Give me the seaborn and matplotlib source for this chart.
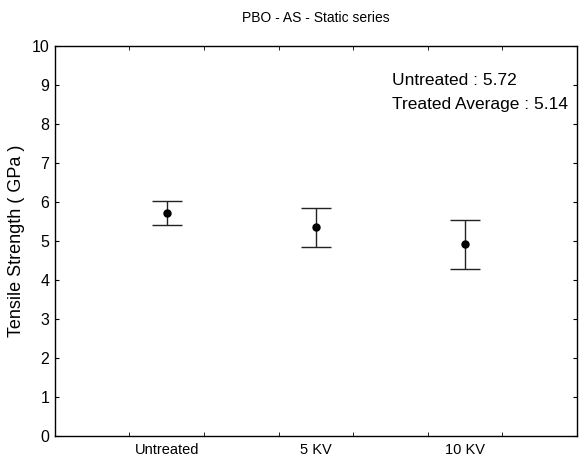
import numpy as np
import pandas as pd
import matplotlib
matplotlib.use("Agg")
import matplotlib.pyplot as plt
import seaborn as sns
from matplotlib.ticker import FixedLocator

# data
groups = ["Untreated", "5 KV", "10 KV"]
means = [5.72, 5.36, 4.92]
errors = [0.31, 0.50, 0.63]
untreated_label = 5.72
treated_avg = 5.14

sns.set_style("white")
plt.rcParams['font.family'] = ['Liberation Sans', 'DejaVu Sans']
plt.rcParams['text.color'] = 'black'
plt.rcParams['xtick.color'] = 'black'
plt.rcParams['ytick.color'] = 'black'
plt.rcParams['axes.labelcolor'] = 'black'

df = pd.DataFrame({"group": groups, "mean": means, "err": errors})

fig = plt.figure(figsize=(5.84, 4.61), dpi=100)
ax = fig.add_axes([0.094, 0.054, 0.894, 0.846])

sns.pointplot(data=df, x="group", y="mean", linestyle="none", color="black",
              marker="o", markersize=4, errorbar=None, ax=ax)
ax.errorbar(np.arange(len(groups)), df["mean"], yerr=df["err"], fmt="none",
            ecolor="#222222", elinewidth=1.0, capsize=11, capthick=1.0, zorder=1)

ax.set_xlim(-0.75, 2.75)
ax.set_ylim(0, 10)
ax.set_yticks(range(0, 11))
ax.xaxis.set_minor_locator(FixedLocator([-0.25, 0.25, 0.75, 1.25, 1.75, 2.25]))
ax.tick_params(axis="x", which="major", length=0, labelsize=10.5, pad=5)
ax.tick_params(axis="x", which="minor", direction="in", length=3, top=True, bottom=True)
ax.tick_params(axis="y", direction="in", length=3, left=True, right=True, labelsize=11.5, pad=4)

for s in ax.spines.values():
    s.set_color("black")
    s.set_linewidth(1.0)

ax.set_xlabel("")
ax.set_ylabel("Tensile Strength ( GPa )", fontsize=13, labelpad=5)
ax.set_title("PBO - AS - Static series", fontsize=10, pad=17)

ax.text(0.646, 0.913, f"Untreated : {untreated_label:.2f}", transform=ax.transAxes,
        fontsize=12.5, va="center")
ax.text(0.646, 0.851, f"Treated Average : {treated_avg:.2f}", transform=ax.transAxes,
        fontsize=12.5, va="center")

fig.savefig("out.png", dpi=100)
